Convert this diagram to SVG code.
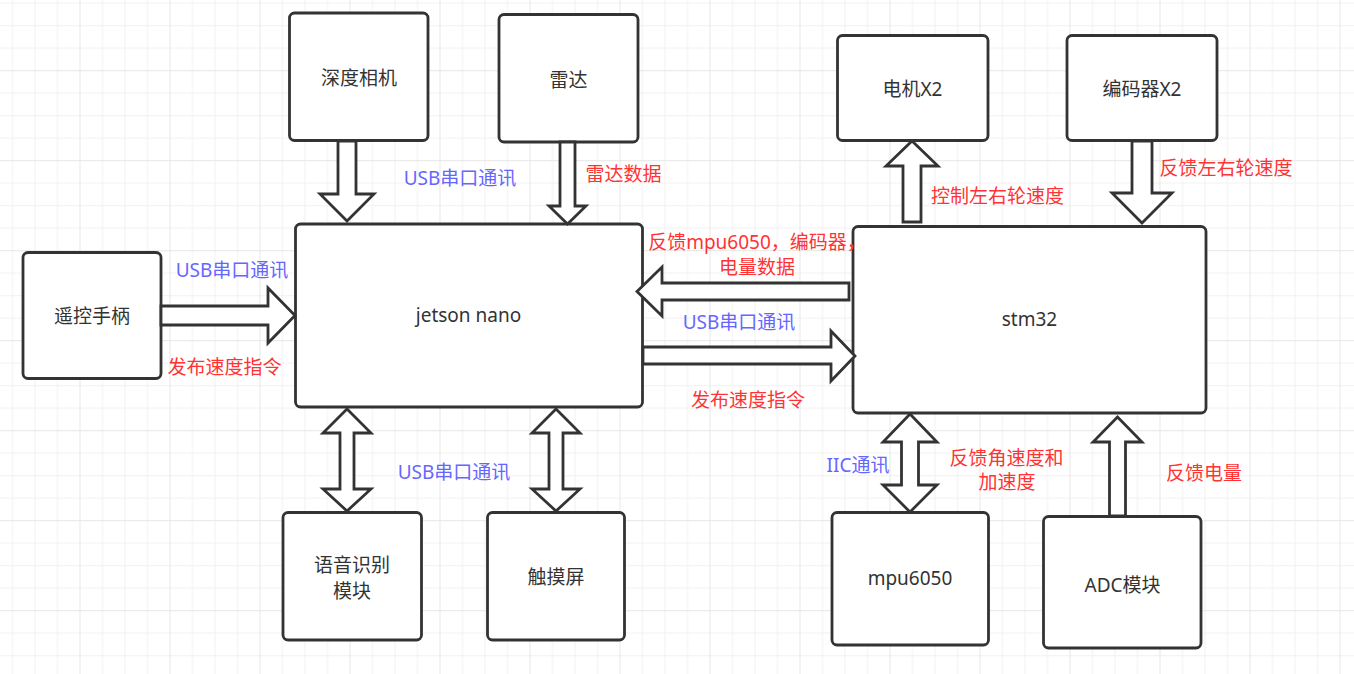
<svg xmlns="http://www.w3.org/2000/svg" width="1354" height="674" viewBox="0 0 1354 674">
<defs>
<pattern id="grid" patternUnits="userSpaceOnUse" x="79.5" y="70.2" width="90" height="90">
<rect x="0" y="0" width="90" height="90" fill="#ffffff"/>
<rect x="22.5" y="0" width="1" height="90" fill="#f1f1f1"/>
<rect x="45" y="0" width="1" height="90" fill="#f1f1f1"/>
<rect x="67.5" y="0" width="1" height="90" fill="#f1f1f1"/>
<rect x="0" y="22.5" width="90" height="1" fill="#f1f1f1"/>
<rect x="0" y="45" width="90" height="1" fill="#f1f1f1"/>
<rect x="0" y="67.5" width="90" height="1" fill="#f1f1f1"/>
<rect x="0" y="0" width="1" height="90" fill="#e6e6e6"/>
<rect x="0" y="0" width="90" height="1" fill="#e6e6e6"/>
</pattern>
</defs>
<style>
.box{fill:#ffffff;stroke:#333333;stroke-width:2.8}
.arr{fill:#ffffff;stroke:#333333;stroke-width:2.8;stroke-linejoin:miter}
text{font-family:"Noto Sans","Noto Sans CJK SC",sans-serif;font-size:19px}
.lbl{fill:#333333;text-anchor:middle}
.blue{fill:#6666ff;text-anchor:middle}
.red{fill:#ff3333;text-anchor:middle}
</style>
<rect x="0" y="0" width="1354" height="674" fill="url(#grid)"/>

<g id="n-camera"><rect class="box" x="289.5" y="13" width="138.5" height="127.5" rx="5"/><text class="lbl" x="359" y="85">深度相机</text></g>
<g id="n-lidar"><rect class="box" x="499" y="14.5" width="139" height="127.5" rx="5"/><text class="lbl" x="568.5" y="86.5">雷达</text></g>
<g id="n-motor"><rect class="box" x="837.5" y="35.5" width="150.5" height="105" rx="5"/><text class="lbl" x="912.5" y="95.5">电机X2</text></g>
<g id="n-encoder"><rect class="box" x="1067" y="35.5" width="150" height="105" rx="5"/><text class="lbl" x="1142" y="95.5">编码器X2</text></g>
<g id="n-remote"><rect class="box" x="23" y="252.5" width="138" height="126" rx="5"/><text class="lbl" x="92" y="323">遥控手柄</text></g>
<g id="n-jetson"><rect class="box" x="295.5" y="224" width="347" height="183" rx="5"/><text class="lbl" x="468.5" y="322">jetson nano</text></g>
<g id="n-stm32"><rect class="box" x="853" y="226.5" width="353" height="186.5" rx="5"/><text class="lbl" x="1029.5" y="326">stm32</text></g>
<g id="n-voice"><rect class="box" x="283" y="512.5" width="138.5" height="127.5" rx="5"/><text class="lbl" x="352" y="572">语音识别</text><text class="lbl" x="352" y="597.5">模块</text></g>
<g id="n-touch"><rect class="box" x="487.5" y="512.5" width="137" height="127.5" rx="5"/><text class="lbl" x="556" y="584">触摸屏</text></g>
<g id="n-mpu"><rect class="box" x="832" y="512.5" width="156.5" height="132.5" rx="5"/><text class="lbl" x="910" y="585">mpu6050</text></g>
<g id="n-adc"><rect class="box" x="1043.5" y="516.5" width="157.5" height="131.5" rx="5"/><text class="lbl" x="1122.5" y="592">ADC模块</text></g>

<g id="connectors">
<polygon class="arr" points="338,141 356,141 356,194 374,194 347,221 320,194 338,194"/>
<polygon class="arr" points="560,142 575,142 575,206 586,206 567.5,224 549,206 560,206"/>
<polygon class="arr" points="849,283 662,283 662,267 637,291.5 662,316 662,300 849,300"/>
<polygon class="arr" points="643,347 831,347 831,331 855,356 831,381 831,364 643,364"/>
<polygon class="arr" points="903,222 921,222 921,166 938,166 912,141 886,166 903,166"/>
<polygon class="arr" points="1132,141 1152,141 1152,193 1172,193 1142,223 1112,193 1132,193"/>
<polygon class="arr" points="161,306 268,306 268,288 295,315.5 268,343 268,325 161,325"/>
<polygon class="arr" points="347,409 371,433 354,433 354,489 371,489 347,511 323,489 340,489 340,433 323,433"/>
<polygon class="arr" points="556,409 580,433 563,433 563,489 580,489 556,511 532,489 549,489 549,433 532,433"/>
<polygon class="arr" points="910,414 937,442 918.5,442 918.5,485 937,485 910,512 883,485 901.5,485 901.5,442 883,442"/>
<polygon class="arr" points="1117.5,417 1142,442 1125.5,442 1125.5,516 1109.5,516 1109.5,442 1093,442"/>
</g>

<g id="labels">
<text class="blue" x="460" y="185">USB串口通讯</text>
<text class="red" x="623.5" y="181">雷达数据</text>
<text class="blue" x="232" y="277">USB串口通讯</text>
<text class="red" x="224.5" y="374">发布速度指令</text>
<text class="red" x="757" y="249">反馈mpu6050，编码器，</text>
<text class="red" x="757" y="274">电量数据</text>
<text class="blue" x="739" y="329">USB串口通讯</text>
<text class="red" x="748" y="406.5">发布速度指令</text>
<text class="red" x="997.5" y="203">控制左右轮速度</text>
<text class="red" x="1226" y="175">反馈左右轮速度</text>
<text class="blue" x="454" y="479">USB串口通讯</text>
<text class="blue" x="858" y="471.5">IIC通讯</text>
<text class="red" x="1006.5" y="464.5">反馈角速度和</text>
<text class="red" x="1007" y="489">加速度</text>
<text class="red" x="1204" y="479.5">反馈电量</text>
</g>
</svg>
